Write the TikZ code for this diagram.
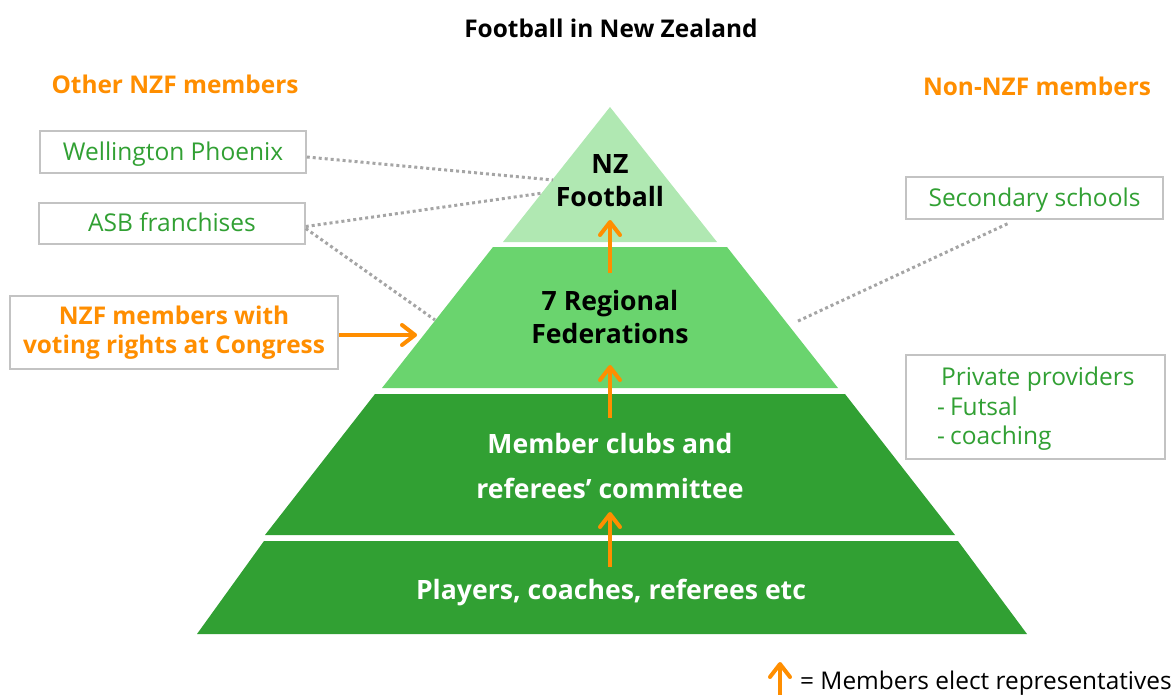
\documentclass[tikz,border=0pt]{standalone}
\usepackage{fontspec}
\setmainfont{Open Sans}
\usetikzlibrary{arrows.meta}
\definecolor{nzorange}{RGB}{255,142,0}
\definecolor{ltgreen}{RGB}{176,232,178}
\definecolor{midgreen}{RGB}{106,212,110}
\definecolor{dkgreen}{RGB}{49,160,51}
\definecolor{boxgray}{RGB}{195,195,195}
\definecolor{dotgray}{RGB}{165,165,165}
\begin{document}
\begin{tikzpicture}[x=1pt,y=-1pt,
  txt/.style={inner sep=0pt, anchor=base},
  head/.style={txt, font=\fontsize{24.4}{29}\selectfont\bfseries},
  tier/.style={txt, font=\fontsize{26.6}{33}\selectfont\bfseries},
  memberbox/.style={draw=boxgray, line width=1.5pt, fill=white, inner sep=0pt,
    text=dkgreen, font=\fontsize{24.5}{29}\selectfont, text height=22pt, text depth=6pt},
  plain/.style={txt, text=dkgreen, font=\fontsize{24.5}{29}\selectfont},
  link/.style={draw=dotgray, line width=3pt, dash pattern=on 3pt off 3pt},
  elect/.style={draw=nzorange, line width=4pt,
    -{Straight Barb[length=13pt, width=20pt, line cap=round, line join=round]}}
]
\useasboundingbox (0,0) rectangle (1176,694);

% pyramid tiers
\fill[ltgreen]  (610,107) -- (717,242) -- (503,242) -- cycle;
\fill[midgreen] (493,247) -- (727,247) -- (838,388) -- (382,388) -- cycle;
\fill[dkgreen]  (375,394) -- (845,394) -- (955,535) -- (265,535) -- cycle;
\fill[dkgreen]  (264,541) -- (958,541) -- (1027,634) -- (197,634) -- cycle;

% tier labels
\node[tier] (nz1) at (610,173) {NZ};
\node[tier] (nz2) at (610,206) {Football};
\node[tier] (rf1) at (610,310) {7 Regional};
\node[tier] (rf2) at (610,343) {Federations};
\node[tier, text=white] (mc1) at (610,453) {Member clubs and};
\node[tier, text=white] (mc2) at (610,498) {referees’ committee};
\node[tier, text=white] (pl)  at (611,599) {Players, coaches, referees etc};

% title and column headings
\node[head] (title) at (611,37) {Football in New Zealand};
\node[head, text=nzorange] (other) at (175,93) {Other NZF members};
\node[head, text=nzorange] (non) at (1037,95) {Non-NZF members};

% member boxes
\node[memberbox, minimum width=266pt, minimum height=42pt] (wp)  at (173,152) {Wellington Phoenix};
\node[memberbox, minimum width=266pt, minimum height=41pt] (asb) at (172,223.5) {ASB franchises};
\node[memberbox, minimum width=328pt, minimum height=73pt, text=nzorange,
      font=\fontsize{24.4}{29}\selectfont\bfseries, align=center,
      text height=, text depth=] (vote) at (174,332.5)
      {\raisebox{-2pt}{NZF members with}\\\raisebox{-2pt}{voting rights at Congress}};
\node[memberbox, minimum width=257pt, minimum height=42pt] (sec) at (1034.5,198) {Secondary schools};
\node[memberbox, minimum width=259pt, minimum height=104pt, text height=, text depth=] (priv) at (1035.5,407) {};
\node[plain, anchor=base west] (pp1) at (941,385) {Private providers};
\node[plain, anchor=base west] (pp2) at (937,415) {-\hspace{5pt}Futsal};
\node[plain, anchor=base west] (pp3) at (937,444) {-\hspace{5pt}coaching};

% points on the pyramid edges
\coordinate (nzA) at (553,180);
\coordinate (nzB) at (543,193);
\coordinate (rfL) at (435,320);
\coordinate (rfR) at (796,322);
\coordinate (rfIn) at (417,335);

% dotted links
\draw[link] (wp.east) ++(0,5) -- (nzA);
\draw[link] (asb.east) ++(0,3) -- (nzB);
\draw[link] (asb.east) ++(0,5) -- (rfL);
\draw[link] (sec.south) ++(-27,4) -- (rfR);

% election arrows
\coordinate (e1s) at (610,273); \coordinate (e1t) at (610,220);
\coordinate (e2s) at (610,418); \coordinate (e2t) at (610,365);
\coordinate (e3s) at (610,567); \coordinate (e3t) at (610,512);
\draw[elect] (e1s) -- (e1t);
\draw[elect] (e2s) -- (e2t);
\draw[elect] (e3s) -- (e3t);
\draw[elect] (vote.east |- rfIn) -- (rfIn);

% legend
\coordinate (legs) at (780,696);
\coordinate (legt) at (780,662);
\draw[elect] (legs) -- (legt);
\node[txt, anchor=base west, font=\fontsize{24.4}{29}\selectfont] (legend) at (800,689) {= Members elect representatives};
\end{tikzpicture}
\end{document}
